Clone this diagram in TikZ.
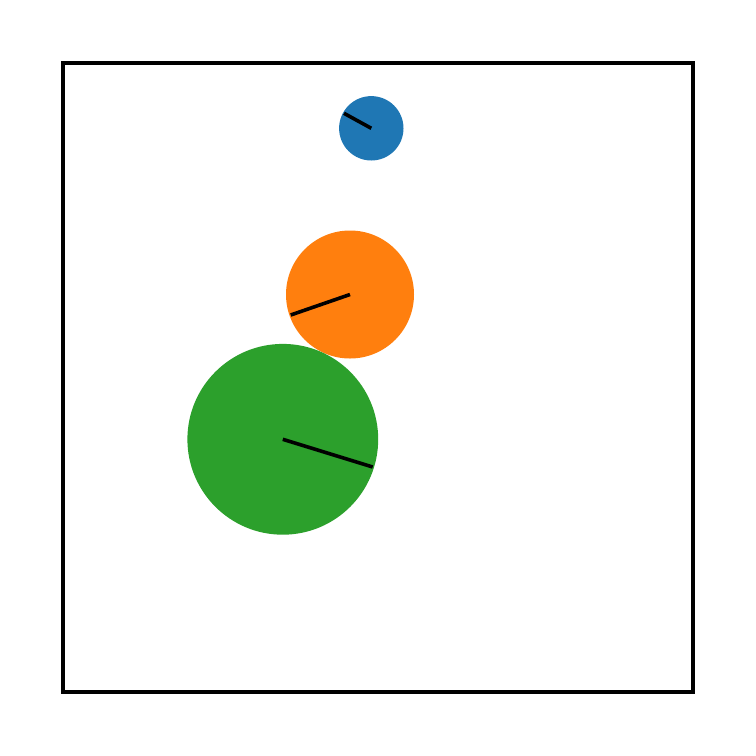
\documentclass[tikz,border=0pt]{standalone}
\definecolor{tabblue}{HTML}{1F77B4}
\definecolor{taborange}{HTML}{FF7F0E}
\definecolor{tabgreen}{HTML}{2CA02C}
\tikzset{ball/.style={circle,inner sep=0pt,draw=none},
  radius line/.style={line width=3.6pt,black}}
\begin{document}
\begin{tikzpicture}[x=1pt,y=-1pt]
\useasboundingbox (0,0) rectangle (756,756);
\node[ball,fill=tabblue,minimum size=64.4pt] (b) at (371.3,128.3) {};
\node[ball,fill=taborange,minimum size=128pt] (o) at (350,294.5) {};
\node[ball,fill=tabgreen,minimum size=190.8pt] (g) at (282.8,439.3) {};
\coordinate (be) at (344,113.3);
\coordinate (oe) at (290.7,315);
\coordinate (ge) at (372.7,467);
\draw[radius line] (b.center) -- (be);
\draw[radius line] (o.center) -- (oe);
\draw[radius line] (g.center) -- (ge);
\draw[line width=3.6pt] (63,63) rectangle (693,692);
\end{tikzpicture}
\end{document}
